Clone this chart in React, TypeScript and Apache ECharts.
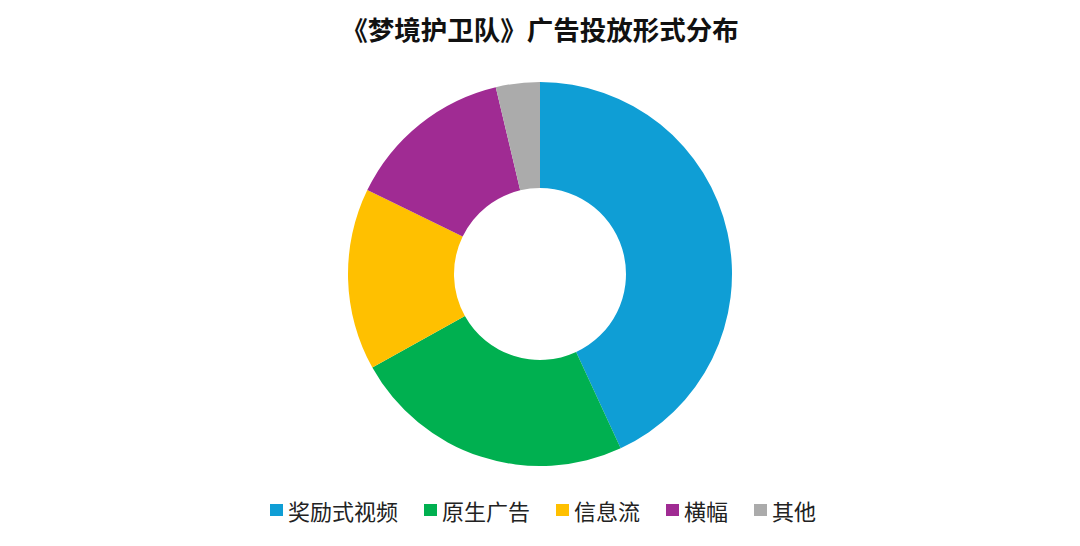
import * as echarts from 'echarts'
import { useEffect, useRef } from 'react'

const categories = ['奖励式视频', '原生广告', '信息流', '横幅', '其他']
const shares = [43.1, 23.8, 15.3, 14.1, 3.7]
const colors = ['#0F9ED5', '#00B050', '#FFC000', '#A02B93', '#ABABAB']

const FONT = '"Noto Sans CJK SC", "Noto Sans", sans-serif'

const App = () => {
  const containerRef = useRef<HTMLDivElement>(null)

  useEffect(() => {
    if (!containerRef.current) return
    const chart = echarts.init(containerRef.current, undefined, { renderer: 'svg' })

    chart.setOption({
      animation: false,
      backgroundColor: '#ffffff',
      title: {
        text: '《梦境护卫队》广告投放形式分布',
        left: 'center',
        top: 10,
        textStyle: { fontFamily: FONT, fontSize: 26.5, fontWeight: 'bold', color: '#111111' }
      },
      legend: {
        data: categories,
        left: 270,
        top: 499,
        padding: 0,
        icon: 'rect',
        itemWidth: 13,
        itemHeight: 12,
        itemGap: 26,
        textStyle: { fontFamily: FONT, fontSize: 22, color: '#222222' }
      },
      series: [
        {
          type: 'pie',
          center: [540, 274],
          radius: [86, 192],
          startAngle: 90,
          clockwise: true,
          label: { show: false },
          labelLine: { show: false },
          emphasis: { disabled: true },
          itemStyle: { borderWidth: 0 },
          data: categories.map((name, i) => ({
            name,
            value: shares[i],
            itemStyle: { color: colors[i] }
          }))
        }
      ]
    })

    return () => chart.dispose()
  }, [])

  return <div ref={containerRef} style={{ width: 1080, height: 546, margin: -8 }} />
}

export default App
